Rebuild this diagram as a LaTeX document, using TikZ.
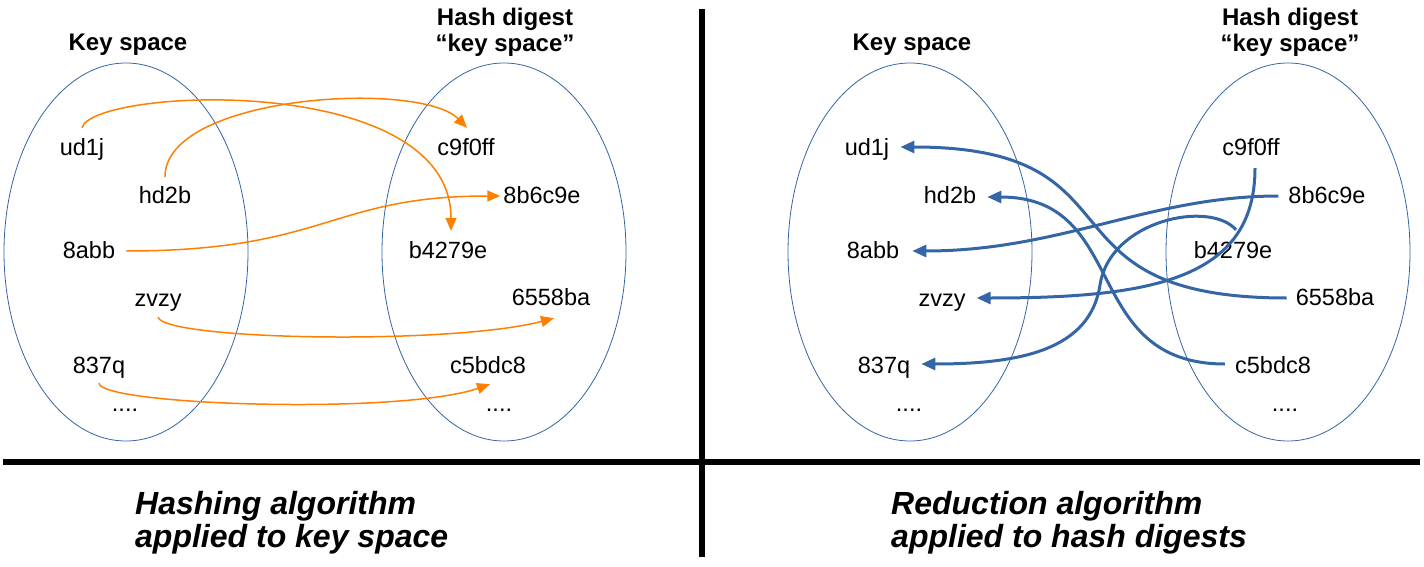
\documentclass[tikz,border=0pt]{standalone}
\usepackage{fontspec}
\setmainfont{Liberation Sans}
\usetikzlibrary{arrows.meta,shapes.geometric}
\definecolor{ellblue}{HTML}{3465A4}
\definecolor{linkblue}{HTML}{3465A4}
\definecolor{linkorange}{HTML}{FF8000}
\begin{document}
\begin{tikzpicture}[x=1pt,y=-1pt,
  word/.style={font=\fontsize{23.5}{26}\selectfont, text height=17pt, text depth=5pt, inner sep=3pt, anchor=base},
  head/.style={font=\fontsize{24}{26}\selectfont\bfseries, inner sep=0pt, anchor=base},
  title/.style={font=\fontsize{32}{34}\selectfont\bfseries\itshape, inner sep=0pt, anchor=base west},
  space/.style={draw=ellblue, line width=0.8pt, ellipse, inner sep=0pt, outer sep=0pt, minimum width=244pt, minimum height=378pt},
  hasharrow/.style={draw=linkorange, line width=1.5pt, -{Triangle[length=13pt,width=11pt]}},
  reducearrow/.style={draw=linkblue, line width=3pt, -{Triangle[length=14pt,width=12pt]}},
  divider/.style={line width=6pt, draw=black}
]
\useasboundingbox (0,0) rectangle (1424,567);

% dividers
\draw[divider] (3,462) -- (1420,462);
\draw[divider] (702,9) -- (702,557);

% ellipses
\node[space] (LK) at (126,252) {};
\node[space] (LH) at (504,252) {};
\node[space] (RK) at (910,252) {};
\node[space] (RH) at (1288,252) {};

% headings
\node[head] (LKh) at (128,51) {Key space};
\node[head] (LHh1) at (505,26) {Hash digest};
\node[head] (LHh2) at (505,52) {“key space”};
\node[head] (RKh) at (912,51) {Key space};
\node[head] (RHh1) at (1290,26) {Hash digest};
\node[head] (RHh2) at (1290,52) {“key space”};

% left panel words
\node[word] (Lud1j) at (82,155) {ud1j};
\node[word] (Lhd2b) at (165,203) {hd2b};
\node[word] (L8abb) at (89,258) {8abb};
\node[word] (Lzvzy) at (158,306) {zvzy};
\node[word] (L837q) at (99,373) {837q};
\node[word] (Ldots) at (125,411) {....};
\node[word] (Lc9f0ff) at (466,155) {c9f0ff};
\node[word] (L8b6c9e) at (542,203) {8b6c9e};
\node[word] (Lb4279e) at (448,258) {b4279e};
\node[word] (L6558ba) at (551,305) {6558ba};
\node[word] (Lc5bdc8) at (488,373) {c5bdc8};
\node[word] (LHdots) at (499,411) {....};

% right panel words
\node[word] (Rud1j) at (867,155) {ud1j};
\node[word] (Rhd2b) at (950,203) {hd2b};
\node[word] (R8abb) at (873,258) {8abb};
\node[word] (Rzvzy) at (942,306) {zvzy};
\node[word] (R837q) at (884,373) {837q};
\node[word] (Rdots) at (909,411) {....};
\node[word] (Rc9f0ff) at (1251,155) {c9f0ff};
\node[word] (R8b6c9e) at (1327,203) {8b6c9e};
\node[word] (Rb4279e) at (1233,258) {b4279e};
\node[word] (R6558ba) at (1335,305) {6558ba};
\node[word] (Rc5bdc8) at (1273,373) {c5bdc8};
\node[word] (RHdots) at (1285,411) {....};

% titles
\node[title] (T1a) at (135,514) {Hashing algorithm};
\node[title] (T1b) at (135,547) {applied to key space};
\node[title] (T2a) at (891,514) {Reduction algorithm};
\node[title] (T2b) at (891,547) {applied to hash digests};

% hashing arrows
\draw[hasharrow] ([shift={(0,-7)}]Lud1j.north) .. controls +(10,-40) and +(0,-160) .. ([shift={(3,-7)}]Lb4279e.north);
\draw[hasharrow] ([shift={(0,-6)}]Lhd2b.north) .. controls +(0,-82) and +(-47,-48) .. ([shift={(1,-7)}]Lc9f0ff.north);
\draw[hasharrow] ([shift={(8,-1)}]L8abb.east) .. controls +(200,0) and +(-170,0) .. ([shift={(0,-1)}]L8b6c9e.west);
\draw[hasharrow] ([shift={(0,3)}]Lzvzy.south) .. controls +(7,23) and +(-104,27) .. ([shift={(3,5)}]L6558ba.south);
\draw[hasharrow] ([shift={(0,2)}]L837q.south) .. controls +(1,22) and +(-90,31) .. ([shift={(2,3)}]Lc5bdc8.south);

% reduction arrows
\coordinate (bend) at (1100,285);
\draw[reducearrow] ([shift={(-6,-1)}]R6558ba.west) .. controls +(-257,0) and +(250,0) .. ([shift={(8,-2)}]Rud1j.east);
\draw[reducearrow] ([shift={(-7,-3)}]Rc5bdc8.west) .. controls +(-145,0) and +(143,0) .. ([shift={(8,0)}]Rhd2b.east);
\draw[reducearrow] ([shift={(-7,-1)}]R8b6c9e.west) .. controls +(-128,0) and +(148,0) .. ([shift={(10,-1)}]R8abb.east);
\draw[reducearrow] ([shift={(4,5)}]Rc9f0ff.south) .. controls +(0,112) and +(173,0) .. ([shift={(8,-2)}]Rzvzy.east);
\draw[reducearrow] ([shift={(3,-8)}]Rb4279e.north) .. controls +(-26,-30) and +(10,-65) .. (bend) .. controls +(-10,65) and +(99,0) .. ([shift={(8,-3)}]R837q.east);
\end{tikzpicture}
\end{document}
